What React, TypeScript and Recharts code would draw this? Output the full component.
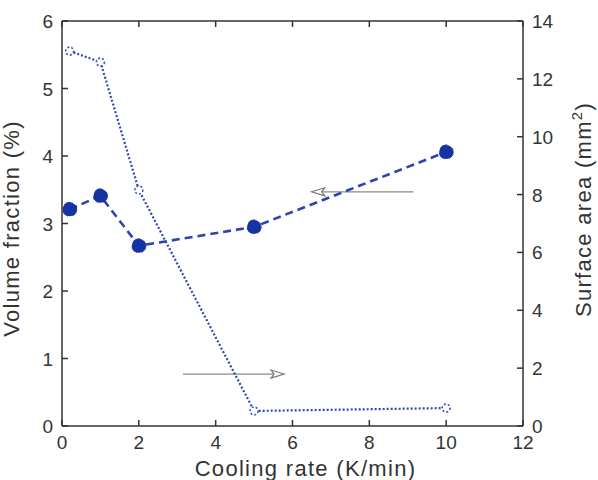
import {
  ComposedChart,
  Line,
  XAxis,
  YAxis,
  ReferenceLine,
} from "recharts";

const coolingRate = [0.2, 1, 2, 5, 10];
const volumeFraction = [3.21, 3.41, 2.67, 2.95, 4.06];
const surfaceArea = [12.96, 12.58, 8.16, 0.52, 0.62];

const xTicks = [0, 2, 4, 6, 8, 10, 12];
const leftTicks = [0, 1, 2, 3, 4, 5, 6];
const rightTicks = [0, 2, 4, 6, 8, 10, 12, 14];

// arrows pointing at the axis each series belongs to (left-axis units)
const arrows = [
  { from: 9.15, to: 6.5, y: 3.47 },
  { from: 3.15, to: 5.78, y: 0.77 },
];

const rows = coolingRate.map((x, i) => ({
  x,
  vf: volumeFraction[i],
  sa: surfaceArea[i],
}));

const CHART_W = 598;
const CHART_H = 480;
const MARGIN = { top: 21, right: 35, left: 22, bottom: 24 };
const X_AXIS_H = 30;
// height of the plotting box, used to mirror the x ticks onto the top frame
const PLOT_H = CHART_H - MARGIN.top - MARGIN.bottom - X_AXIS_H;

const FONT = "'Liberation Sans', Arial, Helvetica, sans-serif";
const AXIS = "#333";
const BLUE = "#1533a3";
const TICK_LEN = 6;
const tickText = { fontSize: 19, fill: "#333", fontFamily: FONT };

function BottomTick({ x, y, payload }: any) {
  const top = y - PLOT_H;
  return (
    <g>
      <line x1={x} y1={y} x2={x} y2={y - TICK_LEN} stroke={AXIS} strokeWidth={1.5} />
      <line x1={x} y1={top} x2={x} y2={top + TICK_LEN} stroke={AXIS} strokeWidth={1.5} />
      <text x={x} y={y + 23} textAnchor="middle" {...tickText}>
        {payload.value}
      </text>
    </g>
  );
}

function LeftTick({ x, y, payload }: any) {
  return (
    <g>
      <line x1={x} y1={y} x2={x + TICK_LEN} y2={y} stroke={AXIS} strokeWidth={1.5} />
      <text x={x - 9} y={y + 7} textAnchor="end" {...tickText}>
        {payload.value}
      </text>
    </g>
  );
}

function RightTick({ x, y, payload }: any) {
  return (
    <g>
      <line x1={x} y1={y} x2={x - TICK_LEN} y2={y} stroke={AXIS} strokeWidth={1.5} />
      <text x={x + 9} y={y + 7} textAnchor="start" {...tickText}>
        {payload.value}
      </text>
    </g>
  );
}

function Arrow({ x1, y1, x2, y2 }: any) {
  const dir = x2 > x1 ? 1 : -1;
  const headLen = 13;
  const half = 4;
  const bx = x2 - dir * headLen;
  return (
    <g>
      <line x1={x1} y1={y1} x2={x2} y2={y2} stroke="#8a8a8a" strokeWidth={1.3} />
      <polygon
        points={`${x2},${y2} ${bx},${y2 - half} ${bx + dir * 3},${y2} ${bx},${y2 + half}`}
        fill="#fff"
        stroke="#777"
        strokeWidth={1.2}
      />
    </g>
  );
}

const labelText = { fontSize: 22, fill: "#333", fontFamily: FONT, letterSpacing: 1.3 };

function LeftLabel({ viewBox }: any) {
  const cx = viewBox.x - 3;
  const cy = viewBox.y + viewBox.height / 2 + 5;
  return (
    <text x={cx} y={cy} transform={`rotate(-90, ${cx}, ${cy})`} textAnchor="middle" {...labelText}>
      Volume fraction (%)
    </text>
  );
}

function RightLabel({ viewBox }: any) {
  const cx = viewBox.x + viewBox.width + 28;
  const cy = viewBox.y + viewBox.height / 2 - 14;
  return (
    <text x={cx} y={cy} transform={`rotate(-90, ${cx}, ${cy})`} textAnchor="middle" {...labelText}>
      Surface area (mm
      <tspan dy={-9} fontSize={15}>2</tspan>
      <tspan dy={9}>)</tspan>
    </text>
  );
}

// x-axis title, plus the top edge of the box frame
function BottomLabel({ viewBox }: any) {
  const cx = viewBox.x + viewBox.width / 2 + 13;
  const cy = viewBox.y + 50;
  const top = viewBox.y - PLOT_H;
  return (
    <g>
      <line
        x1={viewBox.x}
        y1={top}
        x2={viewBox.x + viewBox.width}
        y2={top}
        stroke={AXIS}
        strokeWidth={1.5}
      />
      <text x={cx} y={cy} textAnchor="middle" {...labelText}>
        Cooling rate (K/min)
      </text>
    </g>
  );
}

export default function App() {
  return (
    <div style={{ position: "absolute", left: 0, top: 0, background: "#fff" }}>
      <ComposedChart width={CHART_W} height={CHART_H} data={rows} margin={MARGIN}>
        <XAxis
          dataKey="x"
          type="number"
          domain={[0, 12]}
          ticks={xTicks}
          interval={0}
          height={X_AXIS_H}
          tickSize={0}
          tickMargin={0}
          tick={<BottomTick />}
          tickLine={false}
          axisLine={{ stroke: AXIS, strokeWidth: 1.5 }}
          label={<BottomLabel />}
        />
        <YAxis
          yAxisId="left"
          domain={[0, 6]}
          ticks={leftTicks}
          interval={0}
          width={40}
          tickSize={0}
          tickMargin={0}
          tick={<LeftTick />}
          tickLine={false}
          axisLine={{ stroke: AXIS, strokeWidth: 1.5 }}
          label={<LeftLabel />}
        />
        <YAxis
          yAxisId="right"
          orientation="right"
          domain={[0, 14]}
          ticks={rightTicks}
          interval={0}
          width={40}
          tickSize={0}
          tickMargin={0}
          tick={<RightTick />}
          tickLine={false}
          axisLine={{ stroke: AXIS, strokeWidth: 1.5 }}
          label={<RightLabel />}
        />
        {arrows.map((a, i) => (
          <ReferenceLine
            key={i}
            yAxisId="left"
            segment={[
              { x: a.from, y: a.y },
              { x: a.to, y: a.y },
            ]}
            shape={<Arrow />}
            ifOverflow="visible"
          />
        ))}
        <Line
          yAxisId="right"
          dataKey="sa"
          type="linear"
          stroke="#3048b0"
          strokeWidth={2.2}
          strokeDasharray="2 2"
          dot={{ r: 4, stroke: "#3a52b8", strokeWidth: 1.6, fill: "#fff" }}
          isAnimationActive={false}
        />
        <Line
          yAxisId="left"
          dataKey="vf"
          type="linear"
          stroke="#2a44ac"
          strokeWidth={2.6}
          strokeDasharray="8 5"
          dot={{ r: 7, stroke: BLUE, strokeWidth: 1, fill: BLUE }}
          isAnimationActive={false}
        />
      </ComposedChart>
    </div>
  );
}
